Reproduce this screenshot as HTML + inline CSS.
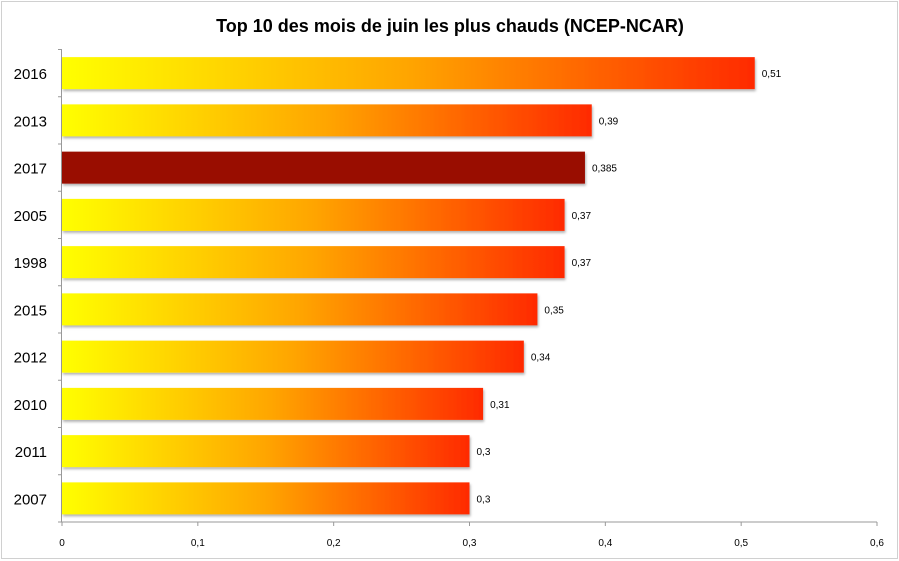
<!DOCTYPE html>
<html><head><meta charset="utf-8"><style>
body{margin:0;background:#fff;}
svg{display:block;font-family:"Liberation Sans",sans-serif;}
</style></head><body>
<svg id="c" width="899" height="561">
<defs>
<linearGradient id="g" x1="0" x2="1" y1="0" y2="0">
<stop offset="0" stop-color="#ffff00"/><stop offset="0.5" stop-color="#ffa500"/><stop offset="1" stop-color="#ff2a00"/>
</linearGradient>
<filter id="sh" x="-5%" y="-20%" width="110%" height="150%"><feDropShadow dx="1" dy="2" stdDeviation="1.2" flood-color="#000" flood-opacity="0.3"/></filter>
</defs>
<rect x="1.5" y="1.5" width="896" height="557" fill="#fff" stroke="#d0d0d0"/>
<text x="450" y="32" text-anchor="middle" font-size="18" font-weight="bold" fill="#000">Top 10 des mois de juin les plus chauds (NCEP-NCAR)</text>
<g id="plot"></g>
</svg>
<script>
const categories=["2016","2013","2017","2005","1998","2015","2012","2010","2011","2007"];
const values=[0.51,0.39,0.385,0.37,0.37,0.35,0.34,0.31,0.3,0.3];
const valueLabels=["0,51","0,39","0,385","0,37","0,37","0,35","0,34","0,31","0,3","0,3"];
const highlight=[false,false,true,false,false,false,false,false,false,false];
const xTicks=[0,0.1,0.2,0.3,0.4,0.5,0.6];
const xTickLabels=["0","0,1","0,2","0,3","0,4","0,5","0,6"];
const ns="http://www.w3.org/2000/svg";
const g=document.getElementById('plot');
const X0=62,X1=877,Y0=49.5,Y1=522;
const band=(Y1-Y0)/categories.length;
const x=v=>X0+(v-0)/(0.6-0)*(X1-X0);
const yc=i=>Y0+band*(i+0.5);
function mk(t,a){const e=document.createElementNS(ns,t);for(const k in a)e.setAttribute(k,a[k]);g.appendChild(e);return e;}
let e;
e=mk('line',{x1:X0-0.5,x2:X0-0.5,y1:Y0,y2:Y1,stroke:'#999'});


e=mk('line',{x1:X0-0.5,x2:X1,y1:Y1,y2:Y1,stroke:'#999'});


for(let i=0;i<=categories.length;i++){
  e=mk('line',{x1:X0-4,x2:X0,y1:Y0+band*i,y2:Y0+band*i,stroke:'#999'});
  
  
}
xTicks.forEach((t,i)=>{
  e=mk('line',{x1:x(t),x2:x(t),y1:Y1,y2:Y1+4,stroke:'#999'});
  
  
  e=mk('text',{x:x(t),y:Y1+24,'text-anchor':'middle','font-size':10,fill:'#000'});
  e.textContent=xTickLabels[i];
  
  
});
categories.forEach((c,i)=>{
  const h=32,cy=yc(i);
  e=mk('rect',{x:X0,y:cy-h/2,width:x(values[i])-X0,height:h,fill:highlight[i]?'#991100':'url(#g)',filter:'url(#sh)'});
  
  
  e=mk('text',{x:x(values[i])+7,y:cy+4,'font-size':10,fill:'#000'});
  e.textContent=valueLabels[i];
  
  
  e=mk('text',{x:47,y:cy+6,'text-anchor':'end','font-size':15,fill:'#000'});
  e.textContent=c;
  
  
});
</script>
</body></html>
